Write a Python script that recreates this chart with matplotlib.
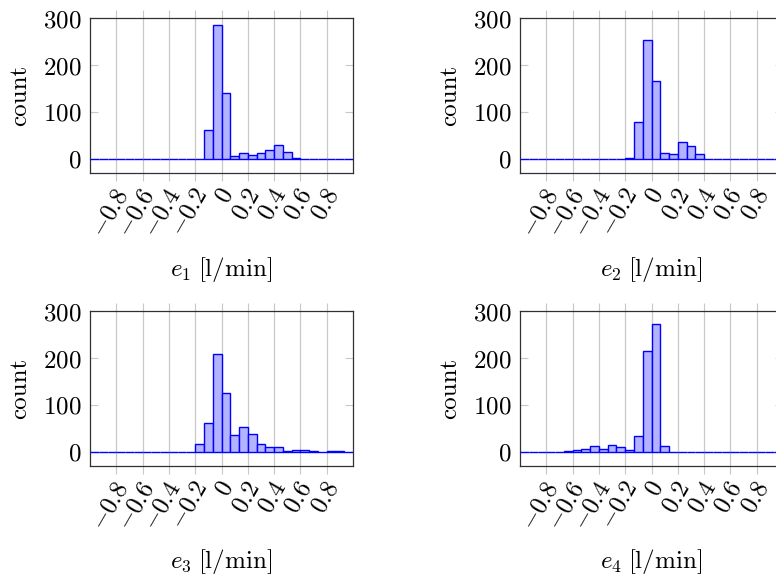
import numpy as np
import matplotlib
matplotlib.use('Agg')
import matplotlib.pyplot as plt
import matplotlib.transforms as mtrans
from matplotlib.ticker import FuncFormatter

plt.rcParams['font.family'] = 'serif'
plt.rcParams['font.serif'] = ['cmr10']
plt.rcParams['mathtext.fontset'] = 'cm'
plt.rcParams['axes.formatter.use_mathtext'] = True

# histogram bins: 30 bins over [-1, 1]
edges = np.linspace(-1, 1, 31)

# counts per bin
e1 = [0]*13 + [62, 287, 142, 8, 14, 9, 14, 20, 31, 16, 3] + [0]*6
e2 = [0]*12 + [3, 79, 254, 166, 14, 11, 37, 29, 11] + [0]*9
e3 = [0]*12 + [18, 63, 210, 126, 37, 54, 39, 18, 12, 12, 4, 6, 5, 4, 1, 2, 2, 1]
e4 = [0]*4 + [1, 4, 6, 8, 14, 8, 16, 11, 5, 34, 215, 273, 14] + [0]*13

series = [e1, e2, e3, e4]
labels = [r'$e_1\;$[l/min]', r'$e_2\;$[l/min]', r'$e_3\;$[l/min]', r'$e_4\;$[l/min]']
xticks = [-0.8, -0.6, -0.4, -0.2, 0, 0.2, 0.4, 0.6, 0.8]
yticks = [0, 100, 200, 300]

W, H = 776, 577
fig = plt.figure(figsize=(W/100, H/100), dpi=100)

# axes boxes in pixels: left, top, width, height
boxes = [(90, 18, 263, 155), (520, 18, 263, 155),
         (90, 311, 263, 155), (520, 311, 263, 155)]

fmt_y = FuncFormatter(lambda v, p: '$%d$' % v)

FS = 18

def xfmt(v):
    return '$0$' if abs(v) < 1e-9 else '$%.1f$' % v

for (l, t, w, h), counts, lab in zip(boxes, series, labels):
    ax = fig.add_axes([l/W, 1 - (t+h)/H, w/W, h/H])
    ax.bar(edges[:-1], counts, width=np.diff(edges), align='edge',
           facecolor='#b3b3ff', edgecolor='blue', linewidth=1.0, zorder=3)
    ax.set_xlim(-1, 1)
    ax.set_ylim(-29, 301)
    ax.set_xticks(xticks)
    ax.set_yticks(yticks)
    ax.yaxis.set_major_formatter(fmt_y)
    ax.grid(axis='x', color='#c8c8c8', linewidth=0.9, zorder=0)
    ax.tick_params(axis='x', direction='out', length=6, color='#c8c8c8',
                   top=True, labelbottom=False)
    ax.tick_params(axis='y', direction='in', length=6, color='#c8c8c8',
                   right=True, labelsize=FS, pad=6)
    # rotated x tick labels, end of text just right of the tick
    tr = mtrans.blended_transform_factory(ax.transData, ax.transAxes) + \
        mtrans.ScaledTranslation(7/100, -17/100, fig.dpi_scale_trans)
    for v in xticks:
        ax.text(v, 0, xfmt(v), transform=tr, rotation=60, rotation_mode='anchor',
                ha='right', va='center', fontsize=FS)
    for sp in ax.spines.values():
        sp.set_color('#303030')
        sp.set_linewidth(0.9)
    ax.set_xlabel(lab, fontsize=FS, va='center')
    ax.xaxis.set_label_coords(0.5, -96/h)
    ax.set_ylabel('count', fontsize=FS, va='center')
    ax.yaxis.set_label_coords(-70/w, 0.5)

fig.savefig('out.png', dpi=100)
